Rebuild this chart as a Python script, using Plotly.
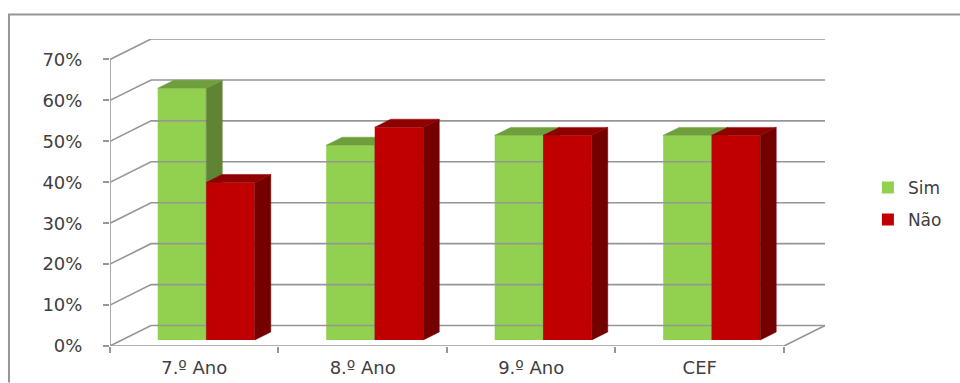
import plotly.graph_objects as go

categories = ["7.º Ano", "8.º Ano", "9.º Ano", "CEF"]
sim = [61.5, 47.6, 50, 50]
nao = [38.5, 52, 50, 50]
y_ticks = [0, 10, 20, 30, 40, 50, 60, 70]

GRID = "#969696"
TEXT = "#404040"
FONT = "DejaVu Sans"
# perspective, in axis units
WALL_DX, WALL_DY = 0.2437, 5.0     # floor depth
BAR_DX, BAR_DY = 0.095, 1.95       # bar depth
LIFT_DX, LIFT_DY = 0.0713, 1.46    # gap between front plane and bars
BAR_W = 0.288

fig = go.Figure()
xs = list(range(len(categories)))


def poly(xa, ya, color, axes=("x", "y")):
    fig.add_trace(go.Scatter(x=xa, y=ya, mode="lines", fill="toself", fillcolor=color,
                             line=dict(color=color, width=0.5), hoverinfo="skip",
                             showlegend=False, xaxis=axes[0], yaxis=axes[1]))


def line(xa, ya):
    fig.add_trace(go.Scatter(x=xa, y=ya, mode="lines", line=dict(color=GRID, width=1.6),
                             hoverinfo="skip", showlegend=False))


for v in y_ticks:
    line([-0.5, -0.5 + WALL_DX, 3.5 + WALL_DX], [v, v + WALL_DY, v + WALL_DY])
line([-0.5, -0.5], [0, 70])
line([-0.5, 3.5, 3.5 + WALL_DX], [0, 0, WALL_DY])


def series(name, vals, side, front, side_c, top_c, axes):
    xc = [i + LIFT_DX + side * BAR_W / 2 for i in xs]
    fig.add_trace(go.Bar(x=xc, y=vals, base=[LIFT_DY] * len(vals), width=BAR_W, name=name,
                         legendgroup=name,
                         marker=dict(color=front, line=dict(width=0)),
                         xaxis=axes[0], yaxis=axes[1]))
    for x, v in zip(xc, vals):
        left, right = x - BAR_W / 2, x + BAR_W / 2
        top = v + LIFT_DY
        poly([right, right + BAR_DX, right + BAR_DX, right, right],
             [LIFT_DY, LIFT_DY + BAR_DY, top + BAR_DY, top, LIFT_DY], side_c, axes)
        poly([left, left + BAR_DX, right + BAR_DX, right, left],
             [top, top + BAR_DY, top + BAR_DY, top, top], top_c, axes)


series("Sim", sim, -1, "#92d050", "#5f8534", "#6f9e3c", ("x", "y"))
series("Não", nao, 1, "#c00000", "#750000", "#8f0000", ("x2", "y2"))

xr = [-0.5, 3.5 + WALL_DX]
yr = [0, 75]
font = dict(family=FONT, size=18, color=TEXT)
fig.update_layout(
    width=960, height=383, autosize=False,
    margin=dict(l=110, r=135, t=39, b=36.5),
    paper_bgcolor="white", plot_bgcolor="rgba(0,0,0,0)",
    barmode="overlay", font=font, showlegend=True,
    legend=dict(x=1.06, y=0.463, xanchor="left", yanchor="middle", traceorder="grouped",
                font=dict(family=FONT, size=17, color=TEXT), itemsizing="constant",
                itemwidth=30, tracegroupgap=7, bgcolor="rgba(0,0,0,0)"),
    xaxis=dict(range=xr, tickvals=[-0.5, 0.5, 1.5, 2.5, 3.5], showticklabels=False,
               ticks="outside", ticklen=6, tickwidth=1.6, tickcolor=GRID, automargin=False,
               showgrid=False, zeroline=False, showline=False),
    xaxis2=dict(range=xr, overlaying="x", anchor="y", tickvals=xs, ticktext=categories,
                ticks="", ticklen=0, side="bottom", showgrid=False, zeroline=False, showline=False,
                tickfont=font, ticklabelstandoff=9, automargin=False),
    yaxis=dict(range=yr, tickvals=y_ticks, ticktext=[f"{v}%" for v in y_ticks],
               ticks="outside", ticklen=6, tickwidth=1.6, tickcolor=GRID, automargin=False,
               showgrid=False, zeroline=False, showline=False, tickfont=font,
               ticklabelstandoff=17),
    yaxis2=dict(range=yr, overlaying="y", anchor="x", visible=False, automargin=False),
    shapes=[dict(type="path", xref="paper", yref="paper", layer="below",
                 path="M -0.1413 -0.119 L -0.1413 1.08 L 1.19 1.08",
                 line=dict(color="#969696", width=2))],
)
fig.write_html("out.html", config=dict(displayModeBar=False),
               post_script="document.body.style.margin='0';")
